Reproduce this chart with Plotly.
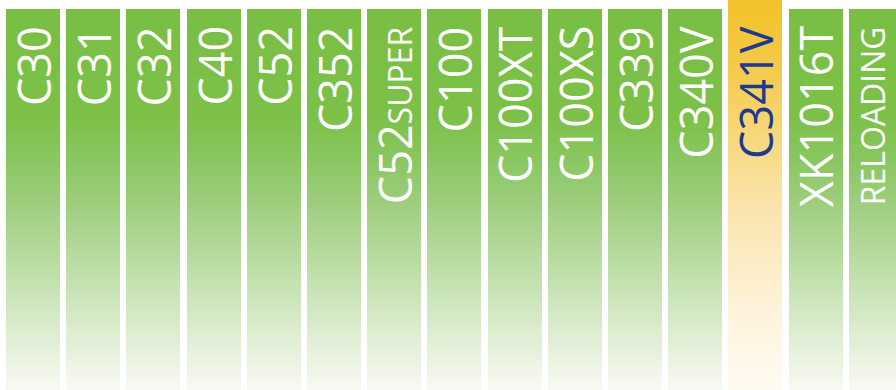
import plotly.graph_objects as go

# ---- data ----
categories = ["C30", "C31", "C32", "C40", "C52", "C352", "C52super", "C100",
              "C100XT", "C100XS", "C339", "C340V", "C341V", "XK1016T", "RELOADING"]
heights = [100, 100, 100, 100, 100, 100, 100, 100, 100, 100, 100, 100, 102.4, 100, 100]
selected = "C341V"

# ---- style ----
green_stops = [(0.0, "#f8f9f3"), (0.10, "#e6f1dc"), (0.23, "#cee6bd"),
               (0.37, "#b4d99a"), (0.50, "#9ccd7b"), (0.60, "#8ac762"),
               (0.72, "#7cc048"), (1.0, "#7abf44")]
yellow_stops = [(0.0, "#fffbf1"), (0.18, "#fef4de"), (0.33, "#fcecc5"),
                (0.49, "#fae3a8"), (0.69, "#f7d570"), (0.85, "#f4c845"),
                (1.0, "#f2c12a")]


def hex2rgb(h):
    h = h.lstrip("#")
    return tuple(int(h[i:i + 2], 16) for i in (0, 2, 4))


def interp(stops, t):
    for (t0, c0), (t1, c1) in zip(stops[:-1], stops[1:]):
        if t0 <= t <= t1:
            a, b = hex2rgb(c0), hex2rgb(c1)
            f = 0 if t1 == t0 else (t - t0) / (t1 - t0)
            r = [round(a[j] + (b[j] - a[j]) * f) for j in range(3)]
            return "rgb(%d,%d,%d)" % tuple(r)
    return stops[-1][1]


K = 96
fig = go.Figure()
for k in range(K):
    t = (k + 0.5) / K
    colors = [interp(yellow_stops if c == selected else green_stops, t) for c in categories]
    fig.add_trace(go.Bar(
        x=categories,
        y=[h / K for h in heights],
        base=[h * k / K for h in heights],
        marker=dict(color=colors, line=dict(width=0)),
        width=0.897,
        hoverinfo="skip",
        showlegend=False,
    ))

for c in categories:
    font = dict(family="Open Sans", size=45,
                color="#1d3a8c" if c == selected else "white")
    xshift = 0
    if c == "C52super":
        font["variant"] = "small-caps"
    if c == "RELOADING":
        font["size"] = 32
        xshift = -3
    fig.add_annotation(
        x=c, y=1 - 24 / 390, xref="x", yref="paper",
        text=c, textangle=-90, showarrow=False,
        xanchor="center", yanchor="top", xshift=xshift,
        font=font,
    )

fig.update_layout(
    width=896, height=390,
    margin=dict(l=0, r=0, t=0, b=0),
    paper_bgcolor="white", plot_bgcolor="white",
    barmode="overlay",
    bargap=0,
    hovermode=False,
    xaxis=dict(type="category", range=[-0.548, 14.336], visible=False, fixedrange=True),
    yaxis=dict(range=[0, 102.4], visible=False, fixedrange=True),
)

fig.write_html("out.html", config={"displayModeBar": False},
               post_script="document.body.style.margin='0';document.body.style.overflow='hidden';")
